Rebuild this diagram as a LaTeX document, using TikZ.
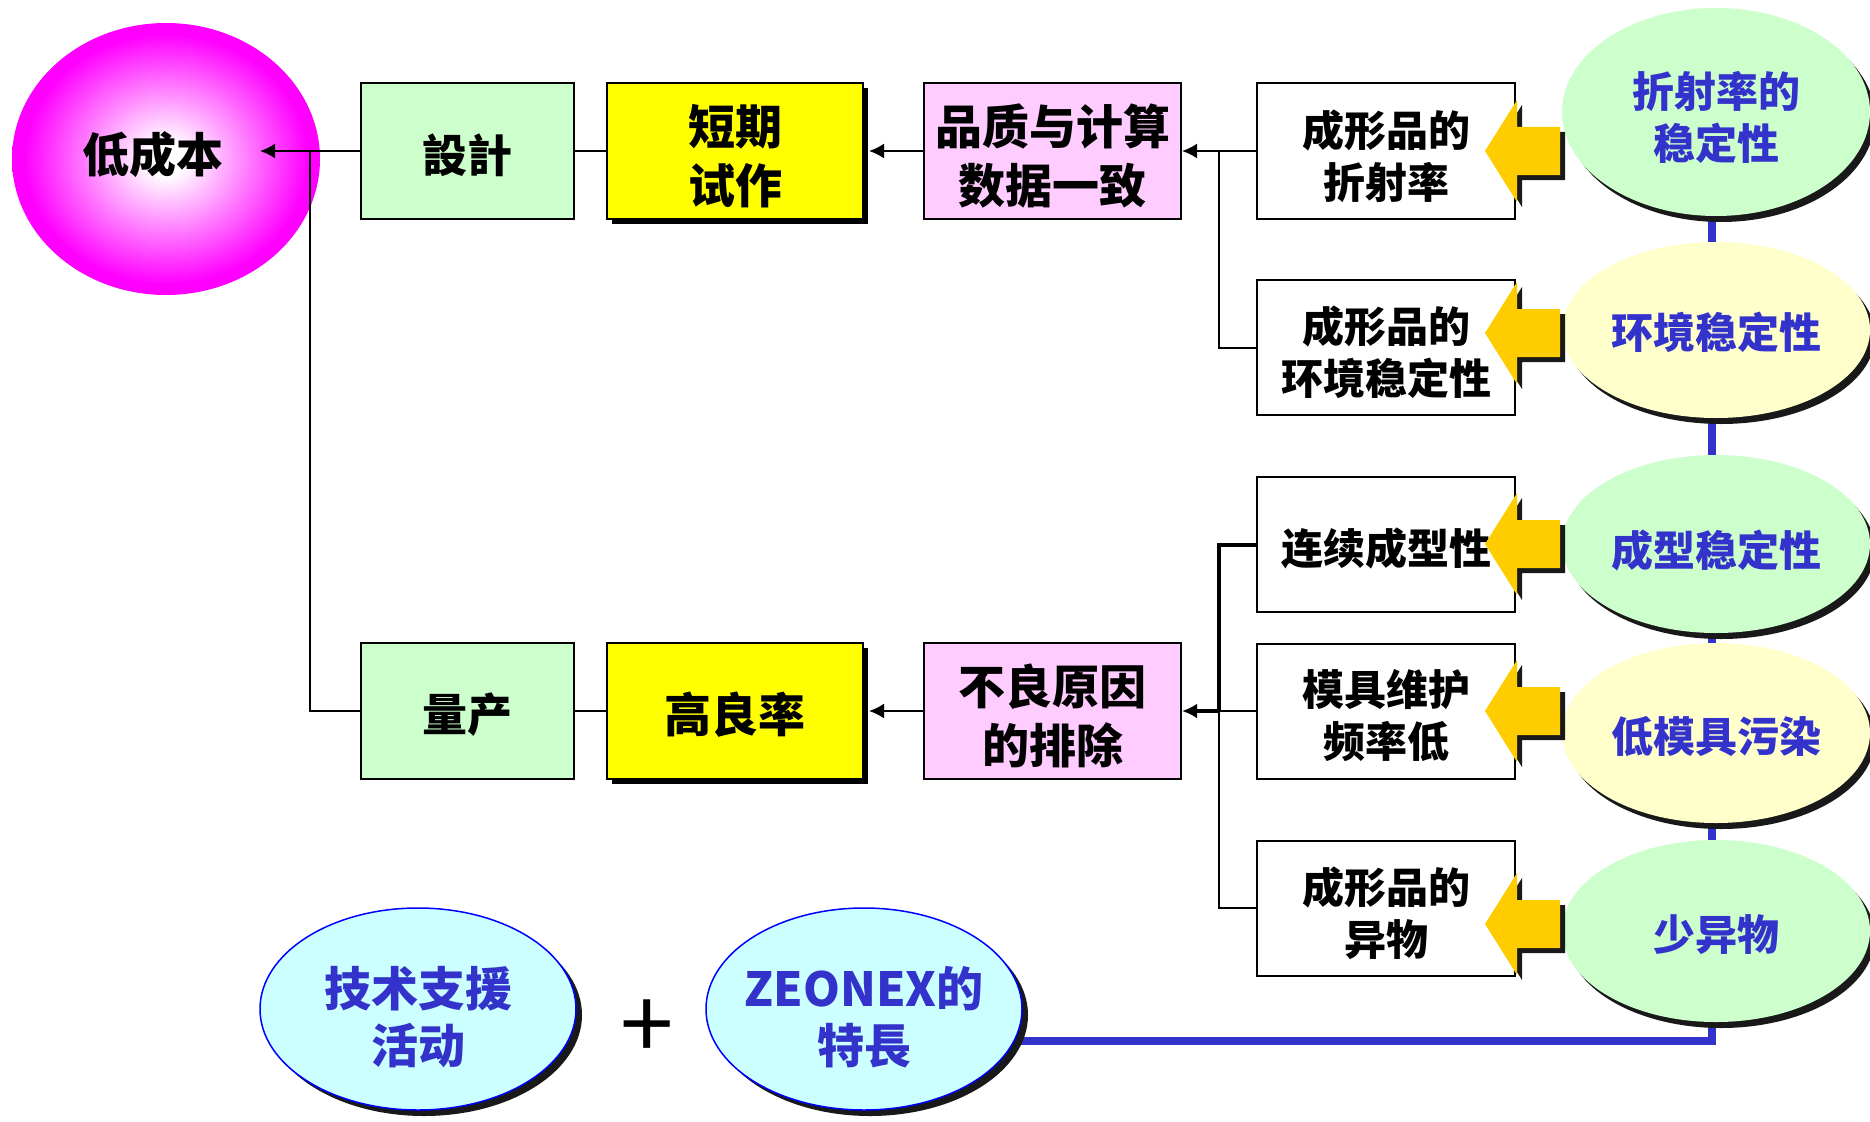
\documentclass[tikz,border=0pt]{standalone}
\usepackage{fontspec}
\newfontfamily\cjk{Noto Sans CJK SC}
\usetikzlibrary{shapes.geometric,shadows,arrows.meta,backgrounds}
\definecolor{gbox}{HTML}{CCFFCC}
\definecolor{ybox}{HTML}{FFFF00}
\definecolor{pbox}{HTML}{FFCCFF}
\definecolor{lyel}{HTML}{FFFFCC}
\definecolor{lcyan}{HTML}{CCFFFF}
\definecolor{tblue}{HTML}{3333CC}
\definecolor{arrY}{HTML}{FFCC00}
\newcommand\dn[2][5pt]{\raisebox{-#1}[\height][\depth]{#2}}
\pgfdeclareradialshading{pinkball}{\pgfpoint{0bp}{0bp}}{color(0bp)=(white); color(3bp)=(white); color(23bp)=(magenta); color(50bp)=(magenta)}
\tikzset{
  box/.style={draw=black, line width=2pt, inner sep=0pt, minimum width=213pt, minimum height=136pt, align=center},
  f45/.style={font=\cjk\bfseries\fontsize{45}{54}\selectfont},
  f47/.style={font=\cjk\bfseries\fontsize{47}{59}\selectfont},
  f42/.style={font=\cjk\bfseries\fontsize{42}{52}\selectfont},
  greenbox/.style={box, fill=gbox, f45},
  yelbox/.style={box, fill=ybox, minimum width=256pt, f47, drop shadow={shadow xshift=5pt, shadow yshift=-5pt, fill=black, opacity=1}},
  pinkbox/.style={box, fill=pbox, minimum width=257pt, f47},
  whitebox/.style={box, fill=white, minimum width=258pt, minimum height=135pt, f42},
  rell/.style={ellipse, inner sep=0pt, minimum width=308pt, minimum height=178pt, align=center, text=tblue, f42, drop shadow={shadow xshift=5pt, shadow yshift=-6pt, fill=black!90, opacity=1}},
  bell/.style={ellipse, draw=blue, line width=1.5pt, fill=lcyan, inner sep=0pt, minimum width=316pt, minimum height=202pt, align=center, text=tblue, font=\cjk\bfseries\fontsize{47}{57}\selectfont, drop shadow={shadow xshift=6pt, shadow yshift=-6pt, fill=black!90, opacity=1}},
  conn/.style={line width=2pt, black},
  thickconn/.style={line width=4pt, black},
  arr/.style={-{Latex[length=15pt,width=15pt]}},
  blueline/.style={line width=8pt, tblue},
  fatarrow/.pic={
    \fill[black!90] (5,5) -- (37,-46) -- (37,-19) -- (80,-19) -- (80,29) -- (37,29) -- (37,56) -- cycle;
    \fill[arrY] (0,0) -- (32,-51) -- (32,-24) -- (75,-24) -- (75,24) -- (32,24) -- (32,51) -- cycle;
  }
}
\begin{document}
\begin{tikzpicture}[x=1pt,y=-1pt]
\useasboundingbox (0,0) rectangle (1870,1121);
\clip (0,0) rectangle (1870,1121);

% pink goal ellipse
\node[ellipse, shade, shading=pinkball, inner sep=0pt, minimum width=308pt, minimum height=272pt] (goal) at (166,159) {};
\node[font=\cjk\bfseries\fontsize{47}{54}\selectfont] (goaltxt) at (153,155) {低成本};

% boxes
\node[greenbox] (des) at (467.5,151) {\dn[4pt]{設計}};
\node[yelbox] (proto) at (735,151) {\dn{短期}\\\dn{试作}};
\node[pinkbox] (qual) at (1052.5,151) {\dn{品质与计算}\\\dn{数据一致}};
\node[whitebox] (b1) at (1386,151) {\dn{成形品的}\\\dn{折射率}};
\node[whitebox] (b2) at (1386,347.5) {\dn{成形品的}\\\dn{环境稳定性}};
\node[whitebox] (b3) at (1386,544.5) {\dn[4pt]{连续成型性}};
\node[whitebox] (b4) at (1386,711) {\dn{模具维护}\\\dn{频率低}};
\node[whitebox] (b5) at (1386,908) {\dn{成形品的}\\\dn{异物}};
\node[greenbox] (mass) at (467.5,711) {\dn[4pt]{量产}};
\node[yelbox] (yield) at (735,711) {\dn[4pt]{高良率}};
\node[pinkbox] (defect) at (1052.5,711) {\dn{不良原因}\\\dn{的排除}};

% black connectors
\coordinate (gtip) at (260,151);
\coordinate (j1) at (310,151);
\draw[conn, arr] (des.west) -- (gtip);
\draw[conn] (j1) |- (mass.west);
\draw[conn] (des.east) -- (proto.west);
\draw[conn, arr] (qual.west) -- ([xshift=5pt]proto.east);
\coordinate (j2) at (1219,151);
\draw[conn] (b1.west) -- (j2) |- (b2.west);
\draw[conn, arr] (j2) -- (qual.east);
\coordinate (j3) at (1219,711);
\draw[thickconn] (b3.west) -| (j3);
\draw[conn] (b4.west) -- (j3);
\draw[conn] (j3) |- (b5.west);
\draw[thickconn, arr] (j3) -- (defect.east);
\draw[conn] (mass.east) -- (yield.west);
\draw[conn, arr] (defect.west) -- ([xshift=5pt]yield.east);

% right ellipses
\node[rell, fill=gbox, minimum height=208pt] (e1) at (1716,112) {\dn{折射率的}\\\dn{稳定性}};
\node[rell, fill=lyel, minimum height=176pt] (e2) at (1716,330) {\dn[2pt]{环境稳定性}};
\node[rell, fill=gbox] (e3) at (1716,544) {\dn[6pt]{成型稳定性}};
\node[rell, fill=lyel, minimum height=180pt] (e4) at (1716,733) {\dn[4pt]{低模具污染}};
\node[rell, fill=gbox, minimum height=182pt] (e5) at (1716,931) {\dn[4pt]{少异物}};

% yellow fat arrows
\pic at (1485,151) {fatarrow};
\pic at (1485,333) {fatarrow};
\pic at (1485,544) {fatarrow};
\pic at (1485,711) {fatarrow};
\pic at (1485,924) {fatarrow};

% bottom ellipses
\node[bell] (tech) at (418,1009) {\dn[8pt]{技术支援}\\\dn[8pt]{活动}};
\node[bell, inner xsep=-30pt] (zeo) at (864,1009) {\dn[8pt]{ZEONEX的}\\\dn[8pt]{特長}};
\node[font=\cjk\fontsize{96}{96}\selectfont] (plus) at (647,1030) {+};

% blue line behind
\coordinate (bc) at (1712,1041);
\begin{scope}[on background layer]
\draw[blueline] (e1.center -| bc) -- (bc) -- (bc -| zeo.center);
\end{scope}
\end{tikzpicture}
\end{document}
